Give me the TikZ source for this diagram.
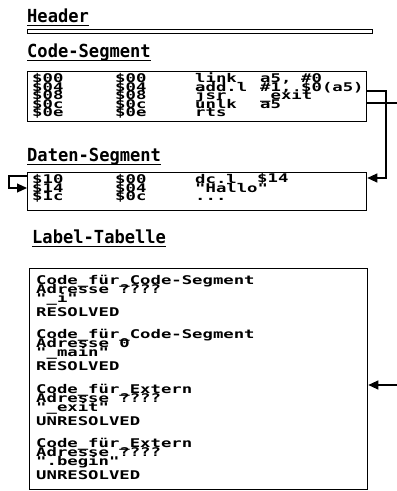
\documentclass[tikz,border=0pt]{standalone}
\usepackage{fontspec}
\usetikzlibrary{arrows.meta}
\newfontfamily\dotfont{DejaVu Sans Mono}[FakeStretch=1.44]
\newfontfamily\headfont{DejaVu Sans Mono}[FakeStretch=0.95]
\tikzset{
  seg/.style={draw,line width=1.3pt,inner sep=0pt,anchor=north west},
  row/.style={anchor=base west,inner sep=0pt,font=\dotfont\bfseries\fontsize{12}{12}\selectfont},
  head/.style={anchor=base west,inner sep=0pt,font=\headfont\bfseries\fontsize{18}{18}\selectfont},
  link/.style={line width=1.1pt},
  tip/.style={-{Triangle[length=10pt,width=9pt]}},
}

\begin{document}
\begin{tikzpicture}[x=1pt,y=-1pt]
\useasboundingbox (0,0) rectangle (397,491);
% --- header ---
\node[head] (hhead) at (27,22) {Header};
\draw[line width=1.5pt] ([yshift=-3.5pt]hhead.base west) -- ([yshift=-3.5pt]hhead.base east);
\draw[line width=1pt] (27,29) rectangle (372,33);
% --- code segment ---
\node[head] (hcode) at (27,57) {Code-Segment};
\draw[line width=1.5pt] ([yshift=-3.5pt]hcode.base west) -- ([yshift=-3.5pt]hcode.base east);
\node[seg,minimum width=339pt,minimum height=50pt] (code) at (27,71) {};
\foreach \y/\a/\b/\c/\d/\e in {82.5/\$00/\$00/link/{a5,}/\#0, 91/\$04/\$04/add.l/{\#1,}/\$0(a5),
  99.5/\$08/\$08/jsr/\_exit/, 108/\$0c/\$0c/unlk/a5/, 116.5/\$0e/\$0e/rts//}{
  \node[row] at (32,\y) {\a};
  \node[row] at (115,\y) {\b};
  \node[row] at (195,\y) {\c};
  \node[row] at (260,\y) {\d};
  \node[row] at (301,\y) {\e};
}
% --- data segment ---
\node[head] (hdata) at (27,161) {Daten-Segment};
\draw[line width=1.5pt] ([yshift=-3.5pt]hdata.base west) -- ([yshift=-3.5pt]hdata.base east);
\node[seg,minimum width=339pt,minimum height=38pt] (daten) at (27,172) {};
\foreach \y/\a/\b in {183.5/\$10/\$00, 192/\$14/\$04, 200.5/\$1c/\$0c}{
  \node[row] at (32,\y) {\a};
  \node[row] at (115,\y) {\b};
}
\node[row] at (195,183.5) {dc.l};
\node[row] at (257,182.5) {\$14};
\node[row] at (195,192) {"Hallo"};
\node[row] at (195,200.5) {...};
% --- label table ---
\node[head] (hlabel) at (32,243) {Label-Tabelle};
\draw[line width=1.5pt] ([yshift=-3.5pt]hlabel.base west) -- ([yshift=-3.5pt]hlabel.base east);
\node[seg,minimum width=338pt,minimum height=221pt] (labels) at (29,268) {};
\foreach \t/\k/\a/\q/\r in {276/Code-Segment/????/\_i/RESOLVED, 330/Code-Segment/0/\_main/RESOLVED,
  385/Extern/????/\_exit/UNRESOLVED, 439/Extern/????/.begin/UNRESOLVED}{
  \node[row] at (36,\t+8) {Code\_für\_\k};
  \node[row] at (36,\t+17) {Adresse \a};
  \node[row] at (36,\t+26) {"\q"};
  \node[row] at (36,\t+40) {\r};
}
% --- connectors ---
\coordinate (jsrout) at (397,103);
\coordinate (exitin) at (397,385);
\draw[link,tip] (code.east |- 0,91) -| (386,178) -- (daten.east |- 0,178);
\draw[link] (code.east |- 0,103) -- (jsrout);
\draw[link,tip] (exitin) -- (labels.east |- exitin);
\draw[link,tip] (daten.west |- 0,176) -- (9,176) |- (daten.west |- 0,188);
\end{tikzpicture}
\end{document}
